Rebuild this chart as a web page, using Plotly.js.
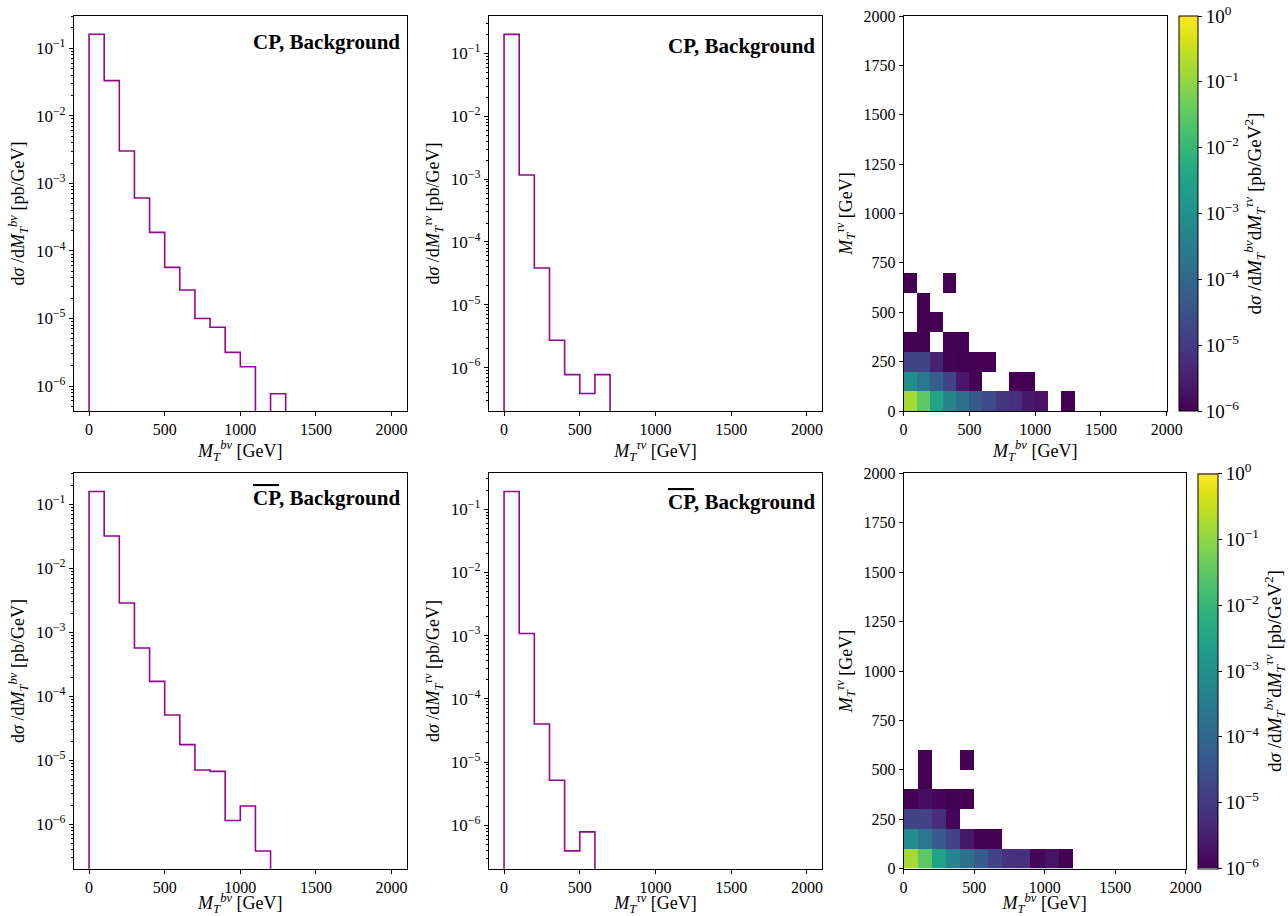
<!DOCTYPE html>
<html>
<head>
<meta charset="utf-8">
<script src="https://cdn.plot.ly/plotly-3.0.1.min.js"></script>
<style>html,body{margin:0;padding:0;background:#fff;} #plot{width:1288px;height:916px;}</style>
</head>
<body>
<div id="plot"></div>
<script>
// ---------------- DATA ----------------
// 1D histograms, bins of 100 GeV starting at 0 (dσ/dM in pb/GeV)
const cpBnu      = [0.161, 0.0332, 3.02e-3, 6.08e-4, 1.88e-4, 5.7e-5, 2.64e-5, 1.0e-5, 7.4e-6, 3.15e-6, 1.93e-6, 0, 7.7e-7];
const cpTaunu    = [0.2, 1.16e-3, 3.86e-5, 2.73e-6, 7.76e-7, 3.88e-7, 7.76e-7];
const cpbarBnu   = [0.158, 0.032, 2.87e-3, 5.7e-4, 1.71e-4, 5.1e-5, 1.76e-5, 7.06e-6, 6.73e-6, 1.15e-6, 1.93e-6, 3.83e-7];
const cpbarTaunu = [0.19, 1.08e-3, 4.0e-5, 5.15e-6, 3.93e-7, 7.85e-7];

// 2D histograms: rows = M_T^{τν} bins (0-100, 100-200, ...), columns = M_T^{bν} bins; 0 = empty
const cp2dRow0 = [0.16, 0.032, 2.9e-3, 5.6e-4, 1.6e-4, 4.5e-5, 2.2e-5, 8e-6, 6.5e-6, 2.5e-6, 1.9e-6, 0, 7.8e-7];
const cp2dRow1 = [8e-4, 2.5e-4, 6e-5, 1.5e-5, 2.5e-6, 7.8e-7, 0, 0, 7.8e-7, 7.8e-7];
const cp2dRow2 = [1.6e-5, 1.6e-5, 3.5e-6, 1.1e-6, 7.8e-7, 7.8e-7, 7.8e-7];
const cp2dRow3 = [7.8e-7, 7.8e-7, 0, 3.9e-7, 7.8e-7];
const cp2dRow4 = [0, 3.9e-7, 3.9e-7];
const cp2dRow5 = [0, 3.9e-7];
const cp2dRow6 = [3.9e-7, 0, 0, 3.9e-7];

const cpbar2dRow0 = [0.155, 0.03, 2.7e-3, 5.3e-4, 1.6e-4, 5e-5, 1.6e-5, 7e-6, 6.7e-6, 1.15e-6, 1.9e-6, 3.9e-7];
const cpbar2dRow1 = [8e-4, 2.2e-4, 5e-5, 1.5e-5, 2.5e-6, 7.8e-7, 7.8e-7];
const cpbar2dRow2 = [1.6e-5, 1.6e-5, 6e-6, 1.2e-6];
const cpbar2dRow3 = [7.8e-7, 1.6e-6, 1.2e-6, 7.8e-7, 7.8e-7];
const cpbar2dRow4 = [0, 3.9e-7];
const cpbar2dRow5 = [0, 3.9e-7, 0, 0, 3.9e-7];

const xTicks = [0, 500, 1000, 1500, 2000];
const yTicks2d = [0, 250, 500, 750, 1000, 1250, 1500, 1750, 2000];
const logTickVals = [1e-6, 1e-5, 1e-4, 1e-3, 1e-2, 1e-1];
const logTickText = ['10<sup>−6</sup>','10<sup>−5</sup>','10<sup>−4</sup>','10<sup>−3</sup>','10<sup>−2</sup>','10<sup>−1</sup>'];
const cbTickVals = [-6, -5, -4, -3, -2, -1, 0];
const cbTickText = ['10<sup>−6</sup>','10<sup>−5</sup>','10<sup>−4</sup>','10<sup>−3</sup>','10<sup>−2</sup>','10<sup>−1</sup>','10<sup>0</sup>'];

// ---------------- HELPERS ----------------
const BIN_W = 100, N_BINS = 20, FLOOR = 1e-12;
const edges = []; for (let i = 0; i <= N_BINS; i++) edges.push(i * BIN_W);

function stepTrace(vals, xa, ya) {
  const xs = [0], ys = [FLOOR];
  vals.forEach((v, i) => {
    const y = v > 0 ? v : FLOOR;
    xs.push(i * BIN_W, (i + 1) * BIN_W); ys.push(y, y);
  });
  xs.push(vals.length * BIN_W); ys.push(FLOOR);
  return {type: 'scatter', mode: 'lines', x: xs, y: ys, xaxis: xa, yaxis: ya,
          line: {color: '#8e0a8e', width: 1.6}, showlegend: false, hoverinfo: 'skip'};
}
function grid(rows) {
  const z = [];
  for (let r = 0; r < N_BINS; r++) {
    const row = [];
    for (let c = 0; c < N_BINS; c++) {
      const v = rows[r] ? rows[r][c] : undefined;
      row.push(v && v > 0 ? Math.log10(v) : null);
    }
    z.push(row);
  }
  return z;
}
const minorVals = [];
for (let e = -8; e <= 0; e++) for (let m = 2; m <= 9; m++) minorVals.push(m * Math.pow(10, e));

const FONT = 'Liberation Serif, Times New Roman, serif';
const cbTitle = 'd<i>σ</i> /d<i>M</i><sub><i>T</i></sub><sup><i>bν</i></sup>d<i>M</i><sub><i>T</i></sub><sup><i>τν</i></sup> [pb/GeV<sup>2</sup>]';

function heat(rows, xa, ya, cbx, cby, cbthick) {
  return {type: 'heatmap', x: edges, y: edges, z: grid(rows), xaxis: xa, yaxis: ya,
    colorscale: 'Viridis', zmin: -6, zmax: 0, zauto: false, hoverongaps: false,
    colorbar: {x: cbx, xanchor: 'left', xpad: 0, y: cby, yanchor: 'middle', ypad: 0,
      len: 395 / 916, lenmode: 'fraction', thickness: cbthick, thicknessmode: 'pixels',
      outlinewidth: 1, outlinecolor: '#000', ticks: 'outside', ticklen: 4, tickcolor: '#000',
      tickvals: cbTickVals, ticktext: cbTickText, tickfont: {size: 19, family: FONT, color: '#000'},
      title: {text: cbTitle, side: 'right', font: {size: 19, family: FONT, color: '#000'}}}};
}

const data = [
  stepTrace(cpBnu, 'x', 'y'),
  stepTrace(cpTaunu, 'x2', 'y2'),
  heat([cp2dRow0, cp2dRow1, cp2dRow2, cp2dRow3, cp2dRow4, cp2dRow5, cp2dRow6], 'x3', 'y3', 1179.3 / 1288, 1 - 213.5 / 916, 18.5),
  stepTrace(cpbarBnu, 'x4', 'y4'),
  stepTrace(cpbarTaunu, 'x5', 'y5'),
  heat([cpbar2dRow0, cpbar2dRow1, cpbar2dRow2, cpbar2dRow3, cpbar2dRow4, cpbar2dRow5], 'x6', 'y6', 1198 / 1288, 1 - 671 / 916, 20)
];

// ---------------- LAYOUT ----------------
const W = 1288, H = 916;
const dx = (a, b) => [a / W, b / W];
const dy = (top, bot) => [1 - bot / H, 1 - top / H];
const titleBnu = '<i>M</i><sub><i>T</i></sub><sup><i>bν</i></sup> [GeV]';
const titleTaunu = '<i>M</i><sub><i>T</i></sub><sup><i>τν</i></sup> [GeV]';
const yHistBnu = 'd<i>σ</i> /d<i>M</i><sub><i>T</i></sub><sup><i>bν</i></sup> [pb/GeV]';
const yHistTaunu = 'd<i>σ</i> /d<i>M</i><sub><i>T</i></sub><sup><i>τν</i></sup> [pb/GeV]';

const tickFont = {size: 16, family: FONT, color: '#000'};
const titleFont = {size: 18, family: FONT, color: '#000'};
function axBase(extra) {
  return Object.assign({showline: true, linecolor: '#000', linewidth: 1, mirror: true,
    ticks: 'outside', ticklen: 4, tickcolor: '#000', showgrid: false, zeroline: false,
    tickfont: tickFont, automargin: false}, extra);
}
function histX(domain, anchor, title) {
  return axBase({domain, anchor, range: [-100, 2100], tickvals: xTicks,
    title: {text: title, font: titleFont, standoff: 4}});
}
function histY(domain, anchor, range, title) {
  return axBase({domain, anchor, type: 'log', range, tickvals: logTickVals, ticktext: logTickText,
    tickfont: {size: 17, family: FONT, color: '#000'},
    minor: {tickvals: minorVals, ticks: 'outside', ticklen: 2, tickcolor: '#000', showgrid: false},
    title: {text: title, font: titleFont, standoff: 6}});
}
function heatX(domain, anchor) {
  return axBase({domain, anchor, range: [0, 2000], tickvals: xTicks,
    title: {text: titleBnu, font: titleFont, standoff: 4}});
}
function heatY(domain, anchor) {
  return axBase({domain, anchor, range: [0, 2000], tickvals: yTicks2d,
    title: {text: titleTaunu, font: titleFont, standoff: 6}});
}

const topRow = dy(16, 411), botRow = dy(473.3, 868.7);
const annFont = {size: 21, family: FONT, color: '#000'};
const layout = {
  width: W, height: H, margin: {l: 0, r: 0, t: 0, b: 0},
  paper_bgcolor: '#fff', plot_bgcolor: '#fff', showlegend: false,
  font: {family: FONT, color: '#000'},
  xaxis: histX(dx(74, 407), 'y', titleBnu),
  yaxis: histY(topRow, 'x', [-6.37, -0.522], yHistBnu),
  xaxis2: histX(dx(489.3, 822.7), 'y2', titleTaunu),
  yaxis2: histY(topRow, 'x2', [-6.689, -0.406], yHistTaunu),
  xaxis3: heatX(dx(904.3, 1167.7), 'y3'),
  yaxis3: heatY(topRow, 'x3'),
  xaxis4: histX(dx(74, 407), 'y4', titleBnu),
  yaxis4: histY(botRow, 'x4', [-6.693, -0.516], yHistBnu),
  xaxis5: histX(dx(489.3, 822.7), 'y5', titleTaunu),
  yaxis5: histY(botRow, 'x5', [-6.688, -0.433], yHistTaunu),
  xaxis6: heatX(dx(904.3, 1186.7), 'y6'),
  yaxis6: heatY(botRow, 'x6'),
  annotations: [
    {xref: 'x domain', yref: 'y domain', x: 0.985, y: 0.934, xanchor: 'right', yanchor: 'middle', showarrow: false,
     text: '<b>CP, Background</b>', font: annFont},
    {xref: 'x2 domain', yref: 'y2 domain', x: 0.985, y: 0.924, xanchor: 'right', yanchor: 'middle', showarrow: false,
     text: '<b>CP, Background</b>', font: annFont},
    {xref: 'x4 domain', yref: 'y4 domain', x: 0.985, y: 0.937, xanchor: 'right', yanchor: 'middle', showarrow: false,
     text: '<b><span style="text-decoration:overline">CP</span>, Background</b>', font: annFont},
    {xref: 'x5 domain', yref: 'y5 domain', x: 0.985, y: 0.927, xanchor: 'right', yanchor: 'middle', showarrow: false,
     text: '<b><span style="text-decoration:overline">CP</span>, Background</b>', font: annFont}
  ]
};

Plotly.newPlot('plot', data, layout, {staticPlot: true, displayModeBar: false});
</script>
</body>
</html>
